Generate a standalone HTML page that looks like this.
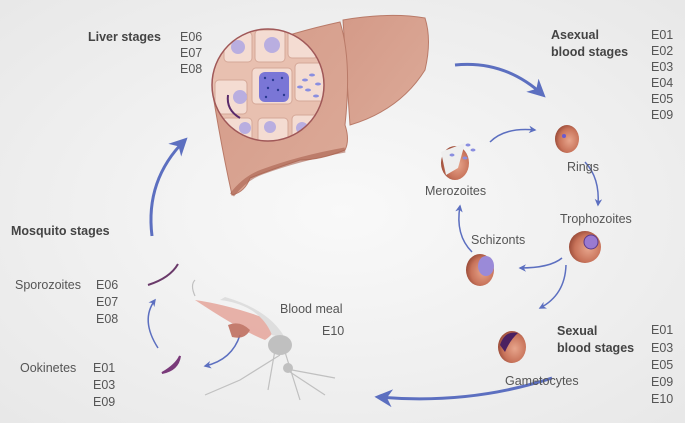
<!DOCTYPE html>
<html><head><meta charset="utf-8"><style>
html,body{margin:0;padding:0;width:685px;height:423px;overflow:hidden}
svg{display:block}
text{font-family:"Liberation Sans",sans-serif;font-size:12.5px;fill:#555}
.b{font-weight:bold;fill:#444}
</style></head><body>
<svg width="685" height="423" viewBox="0 0 685 423" xmlns="http://www.w3.org/2000/svg">
<defs>
<radialGradient id="bg" cx="0.5" cy="0.5" r="0.7"><stop offset="0" stop-color="#f9f9f9"/><stop offset="1" stop-color="#e8e8e8"/></radialGradient>
<radialGradient id="rbc" cx="0.6" cy="0.55" r="0.6"><stop offset="0" stop-color="#e7a58c"/><stop offset="0.7" stop-color="#c8735a"/><stop offset="1" stop-color="#9c4d3a"/></radialGradient>
<linearGradient id="liv" x1="0" y1="0" x2="1" y2="1"><stop offset="0" stop-color="#d49a88"/><stop offset="1" stop-color="#dcaa98"/></linearGradient>
<marker id="ah" viewBox="0 0 10 10" refX="8" refY="5" markerWidth="6" markerHeight="6" orient="auto"><path d="M0,0 L10,5 L0,10 L3,5z" fill="#5c6fc0"/></marker>
<marker id="as" viewBox="0 0 10 10" refX="8" refY="5" markerWidth="5" markerHeight="5" orient="auto"><path d="M0,0 L10,5 L0,10 L3,5z" fill="#5c6fc0"/></marker>
<clipPath id="cc"><circle cx="268" cy="85" r="56"/></clipPath>
</defs>
<rect width="685" height="423" fill="url(#bg)"/>

<!-- liver -->
<path d="M343,20 Q390,12 425,18 Q432,40 425,70 Q400,110 350,125 Z" fill="url(#liv)" stroke="#b97a68" stroke-width="1"/>
<path d="M213,95 Q215,70 235,55 Q280,35 340,22 Q352,60 345,125 Q350,140 345,150 Q320,160 300,160 Q270,170 250,178 Q245,192 232,195 Q222,150 213,95 Z" fill="url(#liv)" stroke="#b97a68"/>
<path d="M232,195 Q245,178 262,172 Q300,158 345,150" fill="none" stroke="#a8604f" stroke-width="5" opacity="0.6"/>
<g clip-path="url(#cc)">
<rect x="210" y="27" width="120" height="120" fill="#e8c0b0"/>
<g fill="#f4dcd2" stroke="#d5a898">
<rect x="224" y="32" width="28" height="30" rx="4"/><rect x="255" y="30" width="30" height="32" rx="4"/><rect x="288" y="30" width="30" height="28" rx="4"/>
<rect x="215" y="80" width="32" height="34" rx="4"/><rect x="222" y="118" width="30" height="30" rx="4"/><rect x="258" y="118" width="30" height="30" rx="4"/><rect x="292" y="115" width="30" height="30" rx="4"/>
<rect x="252" y="68" width="40" height="36" rx="4"/><rect x="295" y="63" width="30" height="38" rx="4"/>
</g>
<g fill="#b9aee0"><circle cx="238" cy="47" r="7"/><circle cx="272" cy="45" r="8"/><circle cx="240" cy="97" r="7"/><circle cx="245" cy="128" r="6"/><circle cx="270" cy="127" r="6"/><circle cx="302" cy="128" r="6"/></g>
<rect x="259" y="72" width="30" height="30" rx="6" fill="#7a76d6"/>
<g fill="#2a3a90"><circle cx="265" cy="78" r="1.2"/><circle cx="273" cy="80" r="1.2"/><circle cx="282" cy="78" r="1.2"/><circle cx="268" cy="88" r="1.2"/><circle cx="278" cy="90" r="1.2"/><circle cx="284" cy="95" r="1.2"/><circle cx="266" cy="97" r="1.2"/></g>
<g fill="#8a8ee0"><ellipse cx="305" cy="80" rx="3" ry="1.5"/><ellipse cx="312" cy="75" rx="3" ry="1.5"/><ellipse cx="318" cy="84" rx="3" ry="1.5"/><ellipse cx="308" cy="90" rx="3" ry="1.5"/><ellipse cx="316" cy="96" rx="3" ry="1.5"/><ellipse cx="300" cy="87" rx="3" ry="1.5"/></g>
<path d="M228,95 Q226,110 240,118" fill="none" stroke="#5a2a6a" stroke-width="2"/>
</g>
<circle cx="268" cy="85" r="56" fill="none" stroke="#a05858" stroke-width="1.5"/>

<!-- big arrows -->
<path d="M455,65 Q505,60 543,95" fill="none" stroke="#5c6fc0" stroke-width="3" marker-end="url(#ah)"/>
<path d="M152,236 Q145,180 185,140" fill="none" stroke="#5c6fc0" stroke-width="3" marker-end="url(#ah)"/>
<path d="M552,378 Q470,405 378,397" fill="none" stroke="#5c6fc0" stroke-width="3" marker-end="url(#ah)"/>
<path d="M158,348 Q140,320 155,300" fill="none" stroke="#5c6fc0" stroke-width="1.5" marker-end="url(#as)"/>
<path d="M240,335 Q232,360 205,366" fill="none" stroke="#5c6fc0" stroke-width="1.5" marker-end="url(#as)"/>
<!-- cycle arrows -->
<path d="M490,142 Q505,127 535,130" fill="none" stroke="#5c6fc0" stroke-width="1.5" marker-end="url(#as)"/>
<path d="M585,162 Q600,178 598,205" fill="none" stroke="#5c6fc0" stroke-width="1.5" marker-end="url(#as)"/>
<path d="M562,258 Q550,268 520,268" fill="none" stroke="#5c6fc0" stroke-width="1.5" marker-end="url(#as)"/>
<path d="M566,265 Q565,295 540,308" fill="none" stroke="#5c6fc0" stroke-width="1.5" marker-end="url(#as)"/>
<path d="M472,252 Q455,235 460,206" fill="none" stroke="#5c6fc0" stroke-width="1.5" marker-end="url(#as)"/>

<!-- cells -->
<ellipse cx="567" cy="139" rx="12" ry="14" fill="url(#rbc)"/><circle cx="564" cy="136" r="2" fill="#6a5ad0"/>
<circle cx="585" cy="247" r="16" fill="url(#rbc)"/><circle cx="591" cy="242" r="7" fill="#9a7ad0" stroke="#5a3a8a"/>
<ellipse cx="480" cy="270" rx="14" ry="16" fill="url(#rbc)"/><ellipse cx="486" cy="266" rx="8" ry="10" fill="#9a8ad8"/>
<ellipse cx="455" cy="163" rx="14" ry="17" fill="url(#rbc)"/><path d="M441,152 L465,143 L458,168 L446,175Z" fill="#eee"/>
<g fill="#8a8ee0"><ellipse cx="468" cy="145" rx="2.5" ry="1.5"/><ellipse cx="465" cy="158" rx="2.5" ry="1.5"/><ellipse cx="473" cy="150" rx="2.5" ry="1.5"/><ellipse cx="452" cy="155" rx="2.5" ry="1.5"/></g>
<ellipse cx="512" cy="347" rx="14" ry="16" fill="url(#rbc)"/><path d="M500,345 Q505,330 518,333 Q510,340 505,352Z" fill="#4a2060"/>

<!-- mosquito -->
<g opacity="0.9">
<path d="M195,300 Q230,305 270,320 Q280,330 265,340 Q240,330 195,300Z" fill="#e6aaa0"/>
<path d="M228,325 Q240,320 250,330 Q245,340 232,337Z" fill="#c07060"/>
<path d="M220,300 Q260,305 272,335 L285,338 Q270,310 225,297Z" fill="#dcdcdc"/>
<ellipse cx="280" cy="345" rx="12" ry="10" fill="#bbb"/>
<circle cx="288" cy="368" r="5" fill="#bbb"/>
<g stroke="#bbb" stroke-width="1.2" fill="none"><path d="M275,350 L268,390"/><path d="M285,352 L300,400"/><path d="M290,372 L325,395"/><path d="M292,370 L335,378"/><path d="M280,355 L240,380 L205,395"/><path d="M195,296 Q190,285 195,280"/></g>
</g>
<path d="M148,285 Q170,278 178,264" fill="none" stroke="#6a3a6a" stroke-width="2"/>
<path d="M162,373 Q178,370 180,356 Q176,365 162,373Z" fill="#7a3a7a" stroke="#7a3a7a" stroke-width="2"/>

<!-- texts -->
<text x="88" y="41" class="b">Liver stages</text>
<text x="180" y="41">E06</text><text x="180" y="57">E07</text><text x="180" y="73">E08</text>
<text x="551" y="39" class="b">Asexual</text><text x="551" y="56" class="b">blood stages</text>
<text x="651" y="39">E01</text><text x="651" y="55">E02</text><text x="651" y="71">E03</text><text x="651" y="87">E04</text><text x="651" y="103">E05</text><text x="651" y="119">E09</text>
<text x="11" y="235" class="b">Mosquito stages</text>
<text x="15" y="289">Sporozoites</text><text x="96" y="289">E06</text><text x="96" y="306">E07</text><text x="96" y="323">E08</text>
<text x="20" y="372">Ookinetes</text><text x="93" y="372">E01</text><text x="93" y="389">E03</text><text x="93" y="406">E09</text>
<text x="280" y="313">Blood meal</text><text x="322" y="335">E10</text>
<text x="557" y="335" class="b">Sexual</text><text x="557" y="352" class="b">blood stages</text>
<text x="651" y="334">E01</text><text x="651" y="352">E03</text><text x="651" y="369">E05</text><text x="651" y="386">E09</text><text x="651" y="403">E10</text>
<text x="505" y="385">Gametocytes</text>
<text x="425" y="195">Merozoites</text>
<text x="567" y="171">Rings</text>
<text x="560" y="223">Trophozoites</text>
<text x="471" y="244">Schizonts</text>
</svg>
</body></html>
